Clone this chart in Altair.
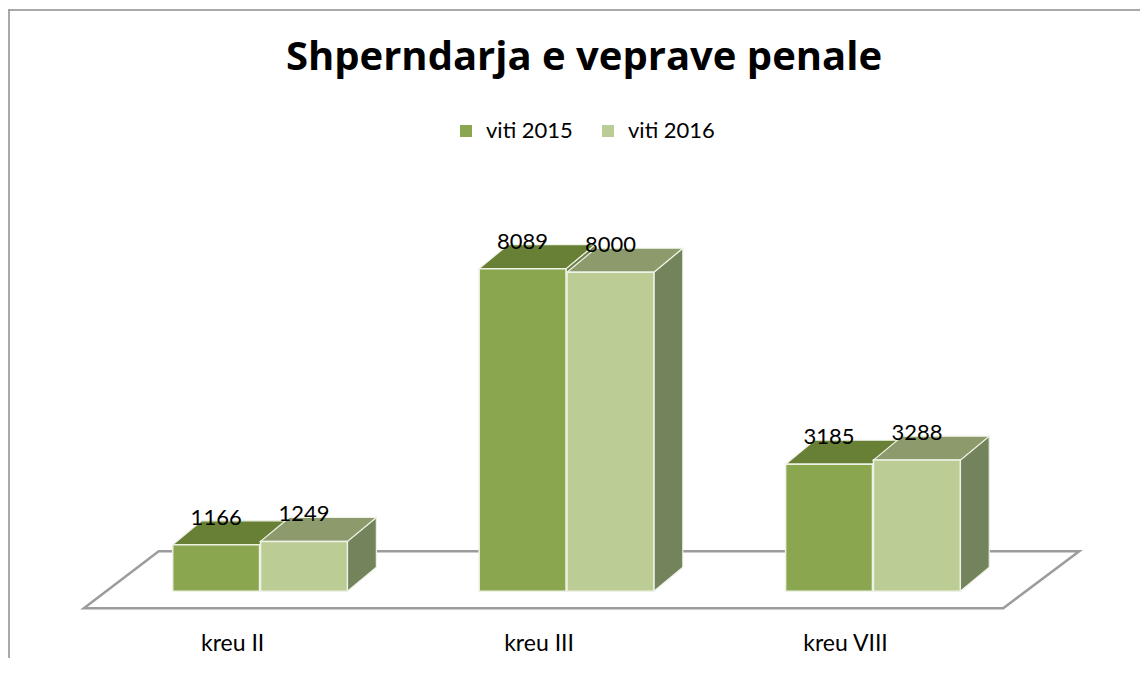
import altair as alt
import pandas as pd

# ---- data ----
TITLE = "Shperndarja e veprave penale"
CATEGORIES = ["kreu II", "kreu III", "kreu VIII"]
YEARS = ["viti 2015", "viti 2016"]
V2015 = [1166, 8089, 3185]
V2016 = [1249, 8000, 3288]

# ---- style ----
FRONT = ["#8AA64E", "#BBCD95"]
TOP = ["#687F36", "#8D9B6C"]
SIDE = ["#6E7F4C", "#73835B"]
EDGE = "#EEF2E6"
W, H = 1132, 650
BAR_W = 87 / 307       # bar width, in category units
STEP = 88 / 307        # offset of second series
DX = 29 / 307          # 3D depth (x)
DY = 600               # 3D depth (value units)

front_rows, top_rows, side_rows, label_rows = [], [], [], []
for i, cat in enumerate(CATEGORIES):
    for j, (year, vals) in enumerate(zip(YEARS, [V2015, V2016])):
        v = vals[i]
        x0 = i + j * STEP
        x1 = x0 + BAR_W
        front_rows.append(dict(cat=cat, year=year, x0=x0, x1=x1, v=v))
        label_rows.append(dict(cat=cat, year=year, xc=(x0 + x1) / 2, v=v))
        for xx, lo, hi in [(x0, v, v), (x0 + DX, v, v + DY), (x1, v, v + DY), (x1 + DX, v + DY, v + DY)]:
            top_rows.append(dict(cat=cat, year=year, x=xx, lo=lo, hi=hi))
        for xx, lo, hi in [(x1, 0, v), (x1 + DX, DY, v + DY)]:
            side_rows.append(dict(cat=cat, year=year, x=xx, lo=lo, hi=hi))

front_df = pd.DataFrame(front_rows)
top_df = pd.DataFrame(top_rows)
side_df = pd.DataFrame(side_rows)
label_df = pd.DataFrame(label_rows)
cat_df = pd.DataFrame({"cat": CATEGORIES, "xc": [i + (BAR_W + STEP) / 2 - 27.5 / 307 for i in range(len(CATEGORIES))], "v": [-1500] * 3})

# floor (parallelogram under the bars)
floor_df = pd.DataFrame({
    "x": [-0.2899, -0.0456, 2.710, 2.958],
    "lo": [-425, -425, -425, 1000],
    "hi": [-425, 1000, 1000, 1000],
})

xs = alt.Scale(domain=[(8 - 172) / 307, (8 + W - 172) / 307], nice=False, zero=False)
ys = alt.Scale(domain=[-1650, 14600], nice=False, zero=False)

floor = alt.Chart(floor_df).mark_area(fill="white", stroke="#9C9C9C", strokeWidth=2.5).encode(
    x=alt.X("x:Q", scale=xs, axis=None),
    y=alt.Y("lo:Q", scale=ys, axis=None),
    y2="hi:Q",
)

layers = [floor]
for j, year in enumerate(YEARS):
    side = alt.Chart(side_df).transform_filter(alt.datum.year == year).mark_area(
        color=SIDE[j], stroke=EDGE, strokeWidth=1.2
    ).encode(x=alt.X("x:Q", scale=xs, axis=None), y=alt.Y("lo:Q", scale=ys, axis=None), y2="hi:Q", detail="cat:N")
    top = alt.Chart(top_df).transform_filter(alt.datum.year == year).mark_area(
        color=TOP[j], stroke=EDGE, strokeWidth=1.2
    ).encode(x=alt.X("x:Q", scale=xs, axis=None), y=alt.Y("lo:Q", scale=ys, axis=None), y2="hi:Q", detail="cat:N")
    front = alt.Chart(front_df).transform_filter(alt.datum.year == year).mark_rect(
        stroke=EDGE, strokeWidth=1.5
    ).encode(
        x=alt.X("x0:Q", scale=xs, axis=None), x2="x1:Q",
        y=alt.Y("v:Q", scale=ys, axis=None), y2=alt.datum(0),
        color=alt.Color("year:N", scale=alt.Scale(domain=YEARS, range=FRONT),
                        legend=alt.Legend(title=None, orient="none", direction="horizontal",
                                          legendX=446, legendY=111, symbolType="square",
                                          symbolSize=144, symbolStrokeWidth=0, labelFont="Lato",
                                          labelFontSize=22, labelColor="black", labelOffset=9,
                                          columnPadding=24, padding=0)),
    )
    layers += [side, top, front]

labels = alt.Chart(label_df).mark_text(font="Lato", fontSize=22, dy=-20, baseline="alphabetic", color="black").encode(
    x=alt.X("xc:Q", scale=xs, axis=None), y=alt.Y("v:Q", scale=ys, axis=None), text="v:Q"
)
cats = alt.Chart(cat_df).mark_text(font="Lato", fontSize=23, baseline="alphabetic", color="black").encode(
    x=alt.X("xc:Q", scale=xs, axis=None), y=alt.Y("v:Q", scale=ys, axis=None), text="cat:N"
)
one = pd.DataFrame({"t": [TITLE]})
title = alt.Chart(one).mark_text(font="Open Sans", fontSize=40, fontWeight="bold", baseline="alphabetic", color="black").encode(
    x=alt.value(575), y=alt.value(61), text="t:N"
)
top_border = alt.Chart(one).mark_rule(color="#8C8C8C", strokeWidth=1.5).encode(
    x=alt.value(0), x2=alt.value(W), y=alt.value(1)
)
left_border = alt.Chart(one).mark_rule(color="#8C8C8C", strokeWidth=1.5).encode(
    x=alt.value(0), y=alt.value(0), y2=alt.value(H)
)

layers += [labels, cats, title, top_border, left_border]

chart = alt.layer(*layers).properties(
    width=W, height=H, padding=0,
    autosize=alt.AutoSizeParams(type="fit", contains="padding"),
).configure_view(stroke=None)

chart.save("out.html", embed_options={"renderer": "svg", "actions": False})
